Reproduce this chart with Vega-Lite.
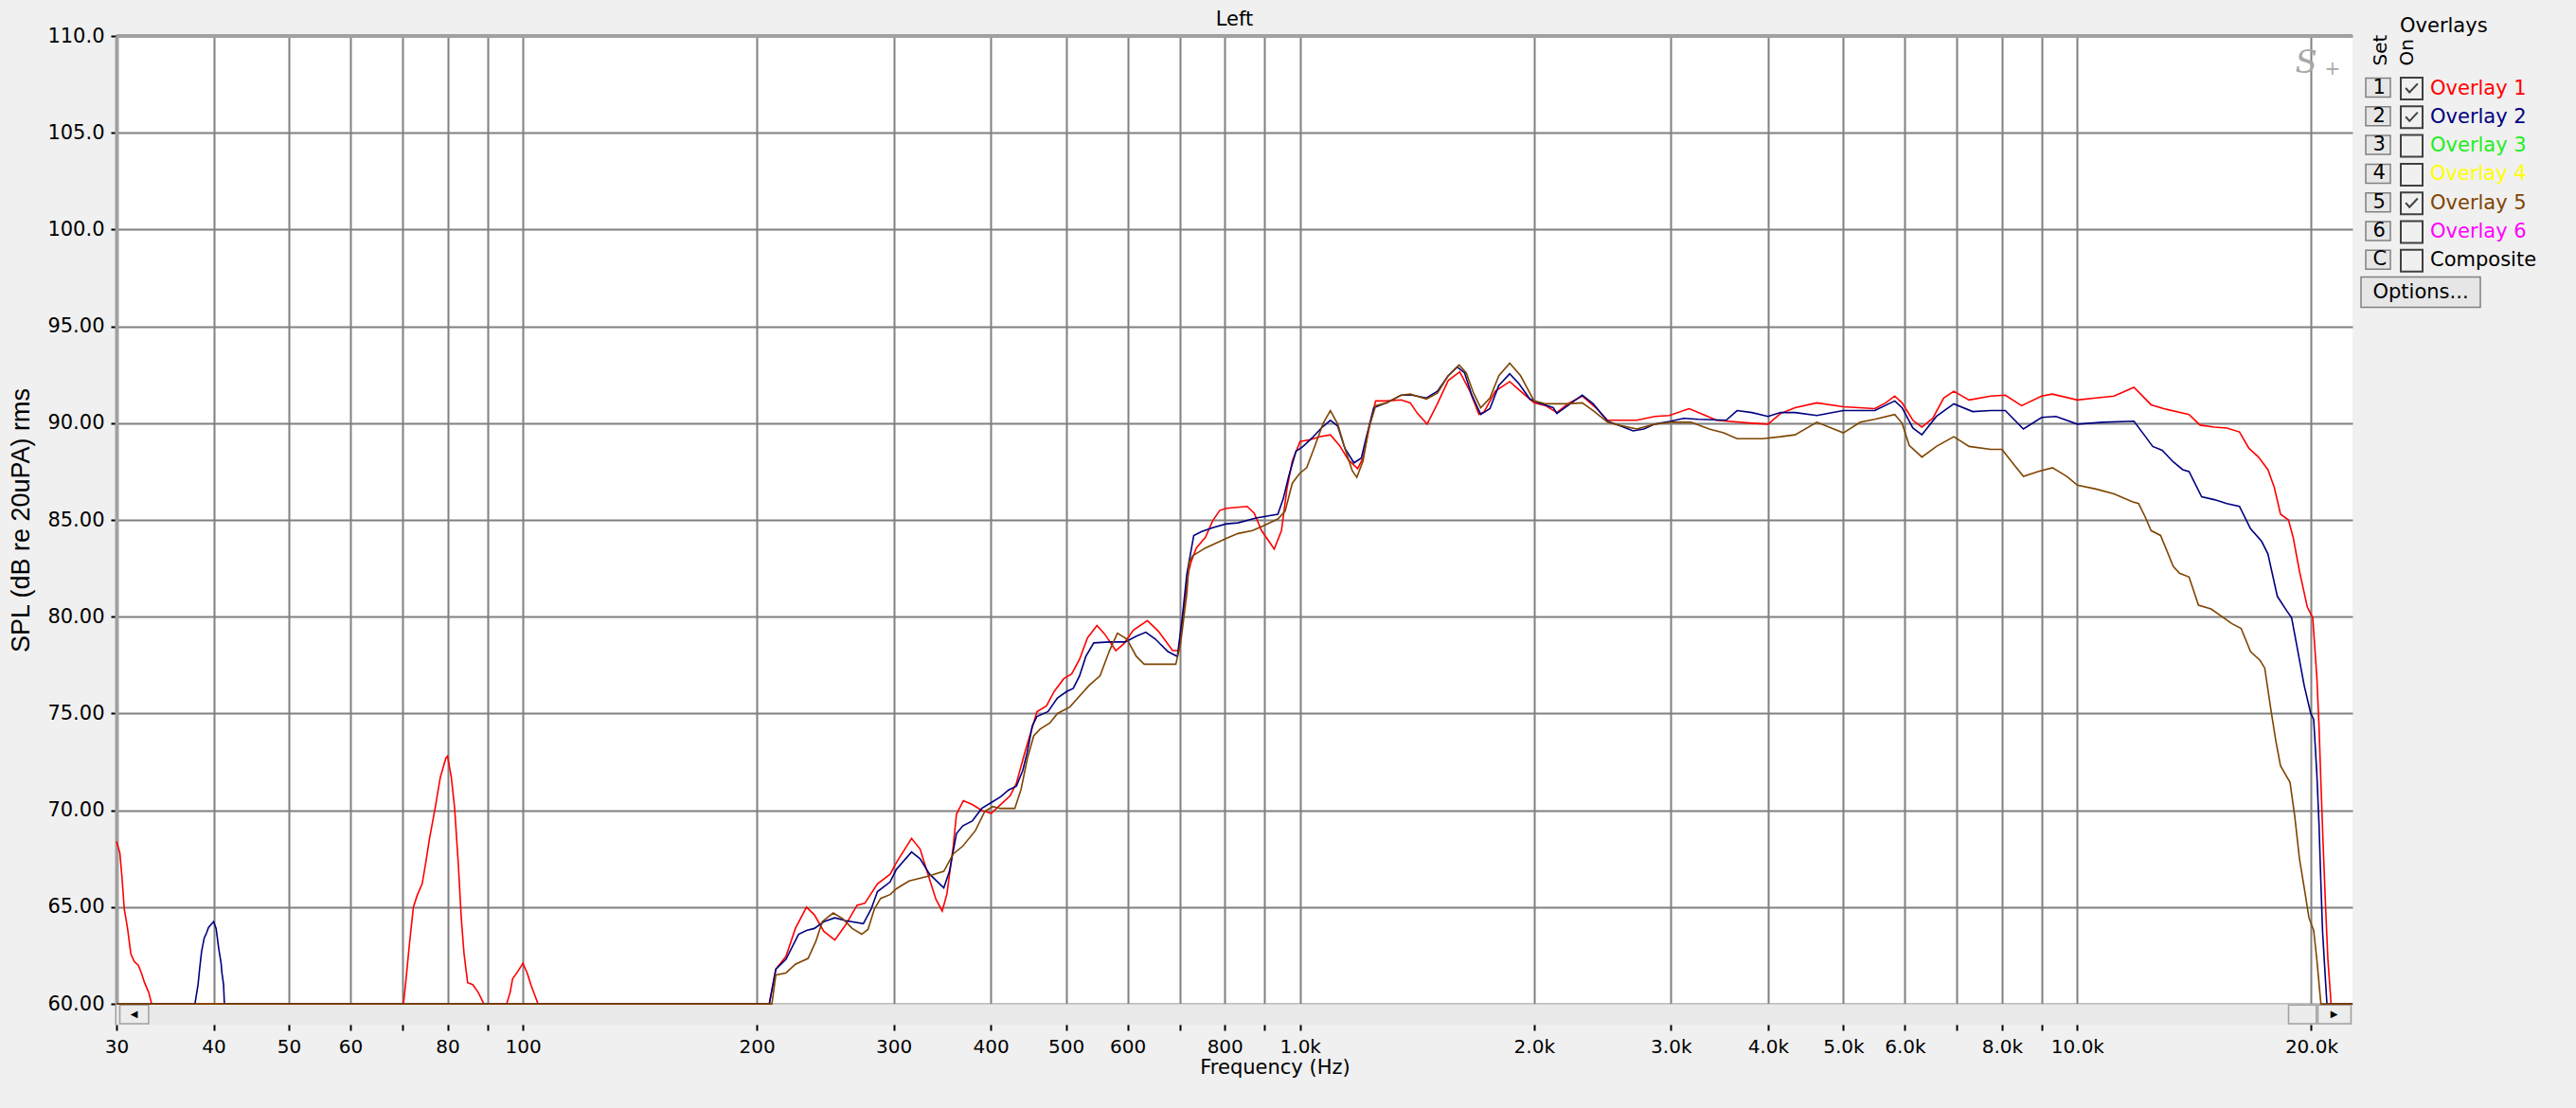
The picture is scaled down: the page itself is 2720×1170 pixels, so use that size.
{
  "$schema": "https://vega.github.io/schema/vega-lite/v6.json",
  "width": 2361,
  "height": 1044,
  "autosize": {"type": "none"},
  "padding": {"left": 123, "top": 38, "right": 236, "bottom": 88},
  "background": "#f0f0f0",
  "config": {
    "view": {"fill": "white", "stroke": null},
    "font": "DejaVu Sans"
  },
  "datasets": {
    "boxes": [{"o": "Overlay 1"}, {"o": "Overlay 2"}, {"o": "Overlay 3"}, {"o": "Overlay 4"}, {"o": "Overlay 5"}, {"o": "Overlay 6"}, {"o": "Composite"}],
    "sets": [{"k": "1"}, {"k": "2"}, {"k": "3"}, {"k": "4"}, {"k": "5"}, {"k": "6"}, {"k": "C"}],
    "opts": [{"b": "Options..."}],
    "curves": [
      {"s":"Overlay 1","f":30,"v":68.4},{"s":"Overlay 1","f":30.3,"v":67.8},{"s":"Overlay 1","f":30.5,"v":66.5},{"s":"Overlay 1","f":30.7,"v":64.9},{"s":"Overlay 1","f":31.0,"v":63.9},{"s":"Overlay 1","f":31.3,"v":62.6},{"s":"Overlay 1","f":31.6,"v":62.2},{"s":"Overlay 1","f":32.0,"v":62.0},{"s":"Overlay 1","f":32.3,"v":61.6},{"s":"Overlay 1","f":32.6,"v":61.1},{"s":"Overlay 1","f":33.0,"v":60.6},{"s":"Overlay 1","f":33.3,"v":60},
      {"s":"Overlay 1","f":70.2,"v":60},{"s":"Overlay 1","f":70.75,"v":61.3},{"s":"Overlay 1","f":71.5,"v":63.2},{"s":"Overlay 1","f":72.3,"v":65.0},{"s":"Overlay 1","f":73.1,"v":65.6},{"s":"Overlay 1","f":74.2,"v":66.2},{"s":"Overlay 1","f":75.0,"v":67.3},{"s":"Overlay 1","f":75.8,"v":68.5},{"s":"Overlay 1","f":77.1,"v":70.1},{"s":"Overlay 1","f":78.3,"v":71.7},{"s":"Overlay 1","f":79.6,"v":72.7},{"s":"Overlay 1","f":80,"v":72.8},{"s":"Overlay 1","f":80.9,"v":71.7},{"s":"Overlay 1","f":81.7,"v":70.1},{"s":"Overlay 1","f":82.6,"v":67.2},{"s":"Overlay 1","f":83.3,"v":64.5},{"s":"Overlay 1","f":84.0,"v":62.6},{"s":"Overlay 1","f":84.9,"v":61.1},{"s":"Overlay 1","f":86.2,"v":61.0},{"s":"Overlay 1","f":87.6,"v":60.6},{"s":"Overlay 1","f":89.1,"v":60},
      {"s":"Overlay 1","f":95.3,"v":60},{"s":"Overlay 1","f":96.3,"v":60.6},{"s":"Overlay 1","f":97.0,"v":61.3},{"s":"Overlay 1","f":98.6,"v":61.7},{"s":"Overlay 1","f":100,"v":62.1},{"s":"Overlay 1","f":101.3,"v":61.6},{"s":"Overlay 1","f":102.4,"v":61.0},{"s":"Overlay 1","f":103.5,"v":60.5},{"s":"Overlay 1","f":104.6,"v":60},
      {"s":"Overlay 1","f":207.5,"v":60},{"s":"Overlay 1","f":211.6,"v":61.8},{"s":"Overlay 1","f":218.0,"v":62.45},{"s":"Overlay 1","f":224.2,"v":63.9},{"s":"Overlay 1","f":231.7,"v":65.0},{"s":"Overlay 1","f":237.2,"v":64.6},{"s":"Overlay 1","f":243.9,"v":63.75},{"s":"Overlay 1","f":252.0,"v":63.3},{"s":"Overlay 1","f":260.4,"v":64.1},{"s":"Overlay 1","f":269.1,"v":65.1},{"s":"Overlay 1","f":275.4,"v":65.2},{"s":"Overlay 1","f":285.9,"v":66.2},{"s":"Overlay 1","f":296.8,"v":66.7},{"s":"Overlay 1","f":302.4,"v":67.3},{"s":"Overlay 1","f":316.3,"v":68.55},{"s":"Overlay 1","f":324.4,"v":68.0},{"s":"Overlay 1","f":332.1,"v":66.7},{"s":"Overlay 1","f":340.0,"v":65.4},{"s":"Overlay 1","f":346.4,"v":64.8},{"s":"Overlay 1","f":351.3,"v":65.7},{"s":"Overlay 1","f":357.9,"v":68.15},{"s":"Overlay 1","f":361.3,"v":69.8},{"s":"Overlay 1","f":368.8,"v":70.5},{"s":"Overlay 1","f":378.6,"v":70.3},{"s":"Overlay 1","f":389.4,"v":70.0},{"s":"Overlay 1","f":400.5,"v":69.85},{"s":"Overlay 1","f":411.8,"v":70.3},{"s":"Overlay 1","f":423.6,"v":70.75},{"s":"Overlay 1","f":431.5,"v":71.4},{"s":"Overlay 1","f":441.8,"v":72.9},{"s":"Overlay 1","f":450.1,"v":74.0},{"s":"Overlay 1","f":458.6,"v":75.1},{"s":"Overlay 1","f":471.7,"v":75.4},{"s":"Overlay 1","f":482.8,"v":76.15},{"s":"Overlay 1","f":496.5,"v":76.8},{"s":"Overlay 1","f":508.3,"v":77.05},{"s":"Overlay 1","f":520.3,"v":77.8},{"s":"Overlay 1","f":532.6,"v":78.9},{"s":"Overlay 1","f":547.8,"v":79.55},{"s":"Overlay 1","f":560.7,"v":79.1},{"s":"Overlay 1","f":579.3,"v":78.25},{"s":"Overlay 1","f":593.1,"v":78.6},{"s":"Overlay 1","f":609.9,"v":79.3},{"s":"Overlay 1","f":636.1,"v":79.8},{"s":"Overlay 1","f":657.3,"v":79.25},{"s":"Overlay 1","f":685.6,"v":78.25},{"s":"Overlay 1","f":698.5,"v":78.25},{"s":"Overlay 1","f":708.4,"v":80.4},{"s":"Overlay 1","f":718.4,"v":82.3},
      {"s":"Overlay 1","f":723.6,"v":82.8},{"s":"Overlay 1","f":735.3,"v":83.55},{"s":"Overlay 1","f":755.3,"v":84.1},{"s":"Overlay 1","f":771.7,"v":84.95},{"s":"Overlay 1","f":788.4,"v":85.5},{"s":"Overlay 1","f":803.9,"v":85.6},{"s":"Overlay 1","f":854.6,"v":85.7},{"s":"Overlay 1","f":873.1,"v":85.35},{"s":"Overlay 1","f":892.1,"v":84.45},{"s":"Overlay 1","f":926.3,"v":83.5},{"s":"Overlay 1","f":946.4,"v":84.45},{"s":"Overlay 1","f":961.7,"v":86.6},{"s":"Overlay 1","f":977.3,"v":88.05},{"s":"Overlay 1","f":1000,"v":89.05},{"s":"Overlay 1","f":1031,"v":89.15},{"s":"Overlay 1","f":1059,"v":89.3},{"s":"Overlay 1","f":1094,"v":89.4},{"s":"Overlay 1","f":1124,"v":88.85},{"s":"Overlay 1","f":1154,"v":88.1},{"s":"Overlay 1","f":1186,"v":87.65},{"s":"Overlay 1","f":1205,"v":88.2},{"s":"Overlay 1","f":1231,"v":90.0},{"s":"Overlay 1","f":1251,"v":91.15},{"s":"Overlay 1","f":1292,"v":91.15},{"s":"Overlay 1","f":1349,"v":91.2},{"s":"Overlay 1","f":1386,"v":91.05},{"s":"Overlay 1","f":1416,"v":90.5},{"s":"Overlay 1","f":1457,"v":89.95},{"s":"Overlay 1","f":1502,"v":91.0},{"s":"Overlay 1","f":1551,"v":92.2},{"s":"Overlay 1","f":1605,"v":92.65},{"s":"Overlay 1","f":1654,"v":91.65},{"s":"Overlay 1","f":1699,"v":90.45},{"s":"Overlay 1","f":1726,"v":90.6},{"s":"Overlay 1","f":1783,"v":91.65},{"s":"Overlay 1","f":1861,"v":92.15},{"s":"Overlay 1","f":1922,"v":91.65},{"s":"Overlay 1","f":2000,"v":91.05},{"s":"Overlay 1","f":2072,"v":90.9},{"s":"Overlay 1","f":2140,"v":90.55},{"s":"Overlay 1","f":2210,"v":91.0},{"s":"Overlay 1","f":2307,"v":91.4},{"s":"Overlay 1","f":2408,"v":90.75},{"s":"Overlay 1","f":2487,"v":90.15},{"s":"Overlay 1","f":2711,"v":90.15},{"s":"Overlay 1","f":2860,"v":90.35},{"s":"Overlay 1","f":2985,"v":90.4},{"s":"Overlay 1","f":3167,"v":90.75},{"s":"Overlay 1","f":3324,"v":90.4},{"s":"Overlay 1","f":3433,"v":90.15},{"s":"Overlay 1","f":3813,"v":90.0},
      {"s":"Overlay 1","f":4000,"v":89.95},{"s":"Overlay 1","f":4152,"v":90.5},{"s":"Overlay 1","f":4334,"v":90.8},{"s":"Overlay 1","f":4623,"v":91.05},{"s":"Overlay 1","f":5000,"v":90.85},{"s":"Overlay 1","f":5489,"v":90.75},{"s":"Overlay 1","f":5669,"v":91.05},{"s":"Overlay 1","f":5823,"v":91.4},{"s":"Overlay 1","f":5950,"v":91.05},{"s":"Overlay 1","f":6144,"v":90.15},{"s":"Overlay 1","f":6311,"v":89.8},{"s":"Overlay 1","f":6518,"v":90.25},{"s":"Overlay 1","f":6731,"v":91.3},{"s":"Overlay 1","f":6937,"v":91.65},{"s":"Overlay 1","f":7257,"v":91.2},{"s":"Overlay 1","f":7739,"v":91.4},{"s":"Overlay 1","f":8079,"v":91.45},{"s":"Overlay 1","f":8480,"v":90.9},{"s":"Overlay 1","f":8995,"v":91.4},{"s":"Overlay 1","f":9290,"v":91.5},{"s":"Overlay 1","f":10000,"v":91.2},{"s":"Overlay 1","f":10567,"v":91.3},{"s":"Overlay 1","f":11150,"v":91.4},{"s":"Overlay 1","f":11828,"v":91.85},{"s":"Overlay 1","f":12446,"v":90.95},{"s":"Overlay 1","f":12919,"v":90.75},{"s":"Overlay 1","f":13926,"v":90.45},{"s":"Overlay 1","f":14387,"v":89.9},{"s":"Overlay 1","f":15005,"v":89.8},{"s":"Overlay 1","f":15575,"v":89.75},{"s":"Overlay 1","f":16168,"v":89.55},{"s":"Overlay 1","f":16630,"v":88.7},{"s":"Overlay 1","f":17103,"v":88.25},{"s":"Overlay 1","f":17590,"v":87.6},{"s":"Overlay 1","f":17921,"v":86.7},{"s":"Overlay 1","f":18260,"v":85.3},{"s":"Overlay 1","f":18693,"v":85.0},{"s":"Overlay 1","f":18957,"v":84.1},{"s":"Overlay 1","f":19315,"v":82.35},{"s":"Overlay 1","f":19771,"v":80.5},{"s":"Overlay 1","f":20089,"v":79.95},{"s":"Overlay 1","f":20334,"v":76.9},{"s":"Overlay 1","f":20468,"v":74.3},{"s":"Overlay 1","f":20583,"v":71.4},{"s":"Overlay 1","f":20719,"v":68.2},{"s":"Overlay 1","f":20874,"v":64.9},{"s":"Overlay 1","f":21011,"v":62.3},{"s":"Overlay 1","f":21169,"v":60.5},{"s":"Overlay 1","f":21209,"v":60},{"s":"Overlay 1","f":22600,"v":60},

      {"s":"Overlay 2","f":30,"v":60},{"s":"Overlay 2","f":37.85,"v":60},{"s":"Overlay 2","f":38.2,"v":61.0},{"s":"Overlay 2","f":38.4,"v":61.9},{"s":"Overlay 2","f":38.6,"v":62.7},{"s":"Overlay 2","f":38.9,"v":63.4},{"s":"Overlay 2","f":39.2,"v":63.7},{"s":"Overlay 2","f":39.4,"v":63.95},{"s":"Overlay 2","f":39.7,"v":64.1},{"s":"Overlay 2","f":40,"v":64.25},{"s":"Overlay 2","f":40.3,"v":63.9},{"s":"Overlay 2","f":40.6,"v":62.9},{"s":"Overlay 2","f":40.9,"v":62.1},{"s":"Overlay 2","f":41.0,"v":61.6},{"s":"Overlay 2","f":41.2,"v":61.0},{"s":"Overlay 2","f":41.3,"v":60},
      {"s":"Overlay 2","f":207.5,"v":60},{"s":"Overlay 2","f":211.6,"v":61.8},{"s":"Overlay 2","f":218.0,"v":62.3},{"s":"Overlay 2","f":226.3,"v":63.6},{"s":"Overlay 2","f":231.7,"v":63.8},{"s":"Overlay 2","f":237.2,"v":63.9},{"s":"Overlay 2","f":243.9,"v":64.25},{"s":"Overlay 2","f":252.0,"v":64.45},{"s":"Overlay 2","f":260.4,"v":64.3},{"s":"Overlay 2","f":274.2,"v":64.15},{"s":"Overlay 2","f":280.6,"v":64.9},{"s":"Overlay 2","f":285.9,"v":65.8},{"s":"Overlay 2","f":296.8,"v":66.3},{"s":"Overlay 2","f":302.4,"v":66.95},{"s":"Overlay 2","f":316.3,"v":67.85},{"s":"Overlay 2","f":324.4,"v":67.5},{"s":"Overlay 2","f":333.7,"v":66.7},{"s":"Overlay 2","f":348.0,"v":66.0},{"s":"Overlay 2","f":353.9,"v":66.85},{"s":"Overlay 2","f":361.3,"v":68.8},{"s":"Overlay 2","f":368.1,"v":69.2},{"s":"Overlay 2","f":378.6,"v":69.45},{"s":"Overlay 2","f":389.4,"v":70.1},{"s":"Overlay 2","f":400.5,"v":70.4},{"s":"Overlay 2","f":411.8,"v":70.7},{"s":"Overlay 2","f":421.6,"v":71.05},{"s":"Overlay 2","f":431.5,"v":71.25},{"s":"Overlay 2","f":439.7,"v":72.05},{"s":"Overlay 2","f":445.9,"v":73.05},{"s":"Overlay 2","f":452.2,"v":74.35},{"s":"Overlay 2","f":458.6,"v":74.85},{"s":"Overlay 2","f":473.9,"v":75.1},{"s":"Overlay 2","f":487.3,"v":75.8},{"s":"Overlay 2","f":501.2,"v":76.15},{"s":"Overlay 2","f":510.7,"v":76.3},{"s":"Overlay 2","f":520.3,"v":76.95},{"s":"Overlay 2","f":530.1,"v":77.95},{"s":"Overlay 2","f":542.7,"v":78.65},{"s":"Overlay 2","f":568.6,"v":78.7},{"s":"Overlay 2","f":595.8,"v":78.7},{"s":"Overlay 2","f":615.7,"v":79.0},{"s":"Overlay 2","f":633.2,"v":79.2},{"s":"Overlay 2","f":651.2,"v":78.85},{"s":"Overlay 2","f":676.0,"v":78.2},{"s":"Overlay 2","f":695.2,"v":77.95},{"s":"Overlay 2","f":705.1,"v":79.9},{"s":"Overlay 2","f":715.0,"v":82.2},
      {"s":"Overlay 2","f":729.8,"v":84.2},{"s":"Overlay 2","f":747.2,"v":84.4},{"s":"Overlay 2","f":771.7,"v":84.6},{"s":"Overlay 2","f":803.9,"v":84.8},{"s":"Overlay 2","f":832,"v":84.85},{"s":"Overlay 2","f":877.8,"v":85.1},{"s":"Overlay 2","f":906.6,"v":85.2},{"s":"Overlay 2","f":936.3,"v":85.3},{"s":"Overlay 2","f":951.5,"v":86.1},{"s":"Overlay 2","f":966.9,"v":87.25},{"s":"Overlay 2","f":987.9,"v":88.55},{"s":"Overlay 2","f":1009,"v":88.8},{"s":"Overlay 2","f":1037,"v":89.25},{"s":"Overlay 2","f":1065,"v":89.75},{"s":"Overlay 2","f":1094,"v":90.15},{"s":"Overlay 2","f":1118,"v":89.85},{"s":"Overlay 2","f":1142,"v":88.7},{"s":"Overlay 2","f":1173,"v":87.95},{"s":"Overlay 2","f":1199,"v":88.2},{"s":"Overlay 2","f":1218,"v":89.35},{"s":"Overlay 2","f":1244,"v":90.8},{"s":"Overlay 2","f":1292,"v":91.05},{"s":"Overlay 2","f":1349,"v":91.45},{"s":"Overlay 2","f":1393,"v":91.45},{"s":"Overlay 2","f":1454,"v":91.3},{"s":"Overlay 2","f":1502,"v":91.65},{"s":"Overlay 2","f":1551,"v":92.45},{"s":"Overlay 2","f":1593,"v":92.9},{"s":"Overlay 2","f":1628,"v":92.6},{"s":"Overlay 2","f":1663,"v":91.45},{"s":"Overlay 2","f":1708,"v":90.45},{"s":"Overlay 2","f":1755,"v":90.75},{"s":"Overlay 2","f":1802,"v":91.95},{"s":"Overlay 2","f":1861,"v":92.55},{"s":"Overlay 2","f":1912,"v":92.05},{"s":"Overlay 2","f":1975,"v":91.25},{"s":"Overlay 2","f":2028,"v":91.05},{"s":"Overlay 2","f":2117,"v":90.8},{"s":"Overlay 2","f":2140,"v":90.5},{"s":"Overlay 2","f":2210,"v":90.9},{"s":"Overlay 2","f":2307,"v":91.45},{"s":"Overlay 2","f":2383,"v":91.0},{"s":"Overlay 2","f":2487,"v":90.1},{"s":"Overlay 2","f":2569,"v":89.9},{"s":"Overlay 2","f":2682,"v":89.6},{"s":"Overlay 2","f":2769,"v":89.7},{"s":"Overlay 2","f":2860,"v":89.95},{"s":"Overlay 2","f":3000,"v":90.1},{"s":"Overlay 2","f":3117,"v":90.25},{"s":"Overlay 2","f":3253,"v":90.2},{"s":"Overlay 2","f":3534,"v":90.15},{"s":"Overlay 2","f":3650,"v":90.65},{"s":"Overlay 2","f":3813,"v":90.55},
      {"s":"Overlay 2","f":4000,"v":90.35},{"s":"Overlay 2","f":4152,"v":90.55},{"s":"Overlay 2","f":4334,"v":90.55},{"s":"Overlay 2","f":4623,"v":90.4},{"s":"Overlay 2","f":5000,"v":90.65},{"s":"Overlay 2","f":5489,"v":90.65},{"s":"Overlay 2","f":5823,"v":91.15},{"s":"Overlay 2","f":5950,"v":90.8},{"s":"Overlay 2","f":6144,"v":89.75},{"s":"Overlay 2","f":6311,"v":89.4},{"s":"Overlay 2","f":6588,"v":90.35},{"s":"Overlay 2","f":6937,"v":91.0},{"s":"Overlay 2","f":7335,"v":90.6},{"s":"Overlay 2","f":7739,"v":90.65},{"s":"Overlay 2","f":8079,"v":90.65},{"s":"Overlay 2","f":8525,"v":89.7},{"s":"Overlay 2","f":9000,"v":90.3},{"s":"Overlay 2","f":9390,"v":90.35},{"s":"Overlay 2","f":10000,"v":89.95},{"s":"Overlay 2","f":10796,"v":90.05},{"s":"Overlay 2","f":11828,"v":90.1},{"s":"Overlay 2","f":12215,"v":89.35},{"s":"Overlay 2","f":12504,"v":88.8},{"s":"Overlay 2","f":12859,"v":88.6},{"s":"Overlay 2","f":13288,"v":88.0},{"s":"Overlay 2","f":13668,"v":87.6},{"s":"Overlay 2","f":13926,"v":87.5},{"s":"Overlay 2","f":14454,"v":86.2},{"s":"Overlay 2","f":15005,"v":86.05},{"s":"Overlay 2","f":15575,"v":85.85},{"s":"Overlay 2","f":16168,"v":85.7},{"s":"Overlay 2","f":16707,"v":84.55},{"s":"Overlay 2","f":17263,"v":83.9},{"s":"Overlay 2","f":17590,"v":83.25},{"s":"Overlay 2","f":18091,"v":81.05},{"s":"Overlay 2","f":18606,"v":80.3},{"s":"Overlay 2","f":18869,"v":79.95},{"s":"Overlay 2","f":19135,"v":78.65},{"s":"Overlay 2","f":19587,"v":76.45},{"s":"Overlay 2","f":19957,"v":75.05},{"s":"Overlay 2","f":20145,"v":74.7},{"s":"Overlay 2","f":20334,"v":71.9},{"s":"Overlay 2","f":20468,"v":69.25},{"s":"Overlay 2","f":20564,"v":66.65},{"s":"Overlay 2","f":20680,"v":63.8},{"s":"Overlay 2","f":20816,"v":61.85},{"s":"Overlay 2","f":20914,"v":60.5},{"s":"Overlay 2","f":20953,"v":60},{"s":"Overlay 2","f":22600,"v":60},

      {"s":"Overlay 5","f":30,"v":60},{"s":"Overlay 5","f":209.1,"v":60},{"s":"Overlay 5","f":211.6,"v":61.5},{"s":"Overlay 5","f":218.0,"v":61.6},{"s":"Overlay 5","f":224.2,"v":62.05},{"s":"Overlay 5","f":232.8,"v":62.35},{"s":"Overlay 5","f":238.3,"v":63.25},{"s":"Overlay 5","f":242.8,"v":64.25},{"s":"Overlay 5","f":250.8,"v":64.7},{"s":"Overlay 5","f":258.0,"v":64.4},{"s":"Overlay 5","f":265.3,"v":63.9},{"s":"Overlay 5","f":272.9,"v":63.6},{"s":"Overlay 5","f":278.0,"v":63.85},{"s":"Overlay 5","f":283.3,"v":64.9},{"s":"Overlay 5","f":288.6,"v":65.45},{"s":"Overlay 5","f":296.8,"v":65.65},{"s":"Overlay 5","f":302.4,"v":65.95},{"s":"Overlay 5","f":314.0,"v":66.35},{"s":"Overlay 5","f":332.1,"v":66.6},{"s":"Overlay 5","f":348.0,"v":66.85},{"s":"Overlay 5","f":357.9,"v":67.75},{"s":"Overlay 5","f":368.1,"v":68.15},{"s":"Overlay 5","f":382.1,"v":68.95},{"s":"Overlay 5","f":393.0,"v":69.95},{"s":"Overlay 5","f":402.3,"v":70.2},{"s":"Overlay 5","f":411.8,"v":70.1},{"s":"Overlay 5","f":429.5,"v":70.1},{"s":"Overlay 5","f":437.6,"v":71.1},{"s":"Overlay 5","f":445.9,"v":72.7},{"s":"Overlay 5","f":454.3,"v":73.85},{"s":"Overlay 5","f":462.9,"v":74.2},{"s":"Overlay 5","f":476.1,"v":74.5},{"s":"Overlay 5","f":487.3,"v":75.0},{"s":"Overlay 5","f":505.9,"v":75.35},{"s":"Overlay 5","f":520.3,"v":75.9},{"s":"Overlay 5","f":535.1,"v":76.45},{"s":"Overlay 5","f":552.9,"v":76.95},{"s":"Overlay 5","f":568.6,"v":78.25},{"s":"Overlay 5","f":582.1,"v":79.15},{"s":"Overlay 5","f":598.6,"v":78.85},{"s":"Overlay 5","f":615.7,"v":77.95},{"s":"Overlay 5","f":630.2,"v":77.55},{"s":"Overlay 5","f":663.5,"v":77.55},{"s":"Overlay 5","f":692.0,"v":77.55},{"s":"Overlay 5","f":701.8,"v":78.6},{"s":"Overlay 5","f":715.0,"v":81.2},{"s":"Overlay 5","f":719.7,"v":82.8},{"s":"Overlay 5","f":727.5,"v":83.15},{"s":"Overlay 5","f":755.3,"v":83.55},{"s":"Overlay 5","f":803.9,"v":84.05},{"s":"Overlay 5","f":832,"v":84.3},{"s":"Overlay 5","f":868.5,"v":84.45},{"s":"Overlay 5","f":896.9,"v":84.7},{"s":"Overlay 5","f":936.3,"v":85.05},{"s":"Overlay 5","f":956.6,"v":85.45},{"s":"Overlay 5","f":977.3,"v":86.9},{"s":"Overlay 5","f":998.6,"v":87.4},{"s":"Overlay 5","f":1020,"v":87.7},{"s":"Overlay 5","f":1042,"v":88.7},{"s":"Overlay 5","f":1071,"v":90.0},{"s":"Overlay 5","f":1094,"v":90.65},{"s":"Overlay 5","f":1118,"v":89.95},{"s":"Overlay 5","f":1142,"v":88.7},{"s":"Overlay 5","f":1167,"v":87.55},{"s":"Overlay 5","f":1183,"v":87.2},{"s":"Overlay 5","f":1205,"v":88.05},{"s":"Overlay 5","f":1225,"v":89.7},{"s":"Overlay 5","f":1251,"v":90.9},{"s":"Overlay 5","f":1292,"v":91.05},{"s":"Overlay 5","f":1349,"v":91.45},{"s":"Overlay 5","f":1386,"v":91.5},{"s":"Overlay 5","f":1454,"v":91.25},{"s":"Overlay 5","f":1502,"v":91.55},{"s":"Overlay 5","f":1551,"v":92.45},{"s":"Overlay 5","f":1602,"v":93.0},{"s":"Overlay 5","f":1636,"v":92.6},{"s":"Overlay 5","f":1672,"v":91.55},{"s":"Overlay 5","f":1708,"v":90.8},{"s":"Overlay 5","f":1755,"v":91.3},{"s":"Overlay 5","f":1802,"v":92.45},{"s":"Overlay 5","f":1861,"v":93.1},{"s":"Overlay 5","f":1922,"v":92.45},{"s":"Overlay 5","f":2000,"v":91.15},{"s":"Overlay 5","f":2072,"v":91.0},{"s":"Overlay 5","f":2210,"v":91.0},{"s":"Overlay 5","f":2307,"v":91.05},{"s":"Overlay 5","f":2383,"v":90.65},{"s":"Overlay 5","f":2487,"v":90.05},{"s":"Overlay 5","f":2569,"v":89.9},{"s":"Overlay 5","f":2711,"v":89.7},{"s":"Overlay 5","f":2860,"v":89.95},{"s":"Overlay 5","f":3000,"v":90.05},{"s":"Overlay 5","f":3184,"v":90.05},{"s":"Overlay 5","f":3360,"v":89.7},{"s":"Overlay 5","f":3507,"v":89.5},{"s":"Overlay 5","f":3650,"v":89.2},{"s":"Overlay 5","f":3935,"v":89.2},{"s":"Overlay 5","f":4152,"v":89.3},{"s":"Overlay 5","f":4334,"v":89.4},{"s":"Overlay 5","f":4623,"v":90.05},{"s":"Overlay 5","f":5000,"v":89.5},{"s":"Overlay 5","f":5258,"v":90.05},{"s":"Overlay 5","f":5489,"v":90.2},{"s":"Overlay 5","f":5823,"v":90.45},{"s":"Overlay 5","f":5950,"v":90.0},{"s":"Overlay 5","f":6078,"v":88.85},{"s":"Overlay 5","f":6311,"v":88.25},{"s":"Overlay 5","f":6588,"v":88.8},{"s":"Overlay 5","f":6937,"v":89.3},{"s":"Overlay 5","f":7257,"v":88.8},{"s":"Overlay 5","f":7739,"v":88.65},{"s":"Overlay 5","f":8000,"v":88.65},{"s":"Overlay 5","f":8254,"v":87.95},{"s":"Overlay 5","f":8525,"v":87.25},{"s":"Overlay 5","f":8900,"v":87.5},{"s":"Overlay 5","f":9290,"v":87.7},{"s":"Overlay 5","f":9697,"v":87.25},{"s":"Overlay 5","f":10000,"v":86.8},{"s":"Overlay 5","f":10567,"v":86.6},{"s":"Overlay 5","f":11150,"v":86.35},{"s":"Overlay 5","f":11767,"v":85.95},{"s":"Overlay 5","f":11990,"v":85.85},{"s":"Overlay 5","f":12215,"v":85.2},{"s":"Overlay 5","f":12446,"v":84.45},{"s":"Overlay 5","f":12800,"v":84.2},{"s":"Overlay 5","f":13288,"v":82.6},{"s":"Overlay 5","f":13537,"v":82.25},{"s":"Overlay 5","f":13926,"v":82.05},{"s":"Overlay 5","f":14320,"v":80.6},{"s":"Overlay 5","f":14864,"v":80.4},{"s":"Overlay 5","f":15431,"v":79.95},{"s":"Overlay 5","f":15797,"v":79.65},{"s":"Overlay 5","f":16246,"v":79.4},{"s":"Overlay 5","f":16707,"v":78.2},{"s":"Overlay 5","f":17183,"v":77.75},{"s":"Overlay 5","f":17426,"v":77.35},{"s":"Overlay 5","f":17754,"v":75.15},{"s":"Overlay 5","f":18006,"v":73.6},{"s":"Overlay 5","f":18260,"v":72.3},{"s":"Overlay 5","f":18780,"v":71.45},{"s":"Overlay 5","f":19046,"v":69.7},{"s":"Overlay 5","f":19315,"v":67.5},{"s":"Overlay 5","f":19587,"v":66.0},{"s":"Overlay 5","f":19865,"v":64.45},{"s":"Overlay 5","f":20145,"v":63.8},{"s":"Overlay 5","f":20334,"v":62.3},{"s":"Overlay 5","f":20526,"v":60.5},{"s":"Overlay 5","f":20583,"v":60},{"s":"Overlay 5","f":22600,"v":60}
    ]
  },
  "layer": [
    {
      "data": {"values": [{}]},
      "mark": {"type": "rect", "fill": "#e9e9e9"},
      "encoding": {
        "y": {"datum": 60, "type": "quantitative", "axis": null},
        "y2": {"datum": 58.93}
      }
    },
    {
      "data": {"values": [{}]},
      "mark": {"type": "rect", "fill": "#ececec", "stroke": "#a0a0a0", "strokeWidth": 1.5},
      "encoding": {
        "x": {"datum": 30.3, "type": "quantitative", "axis": null},
        "x2": {"datum": 33.0},
        "y": {"datum": 59.95, "type": "quantitative", "axis": null},
        "y2": {"datum": 58.98}
      }
    },
    {
      "data": {"values": [{}]},
      "mark": {"type": "rect", "fill": "#ececec", "stroke": "#a0a0a0", "strokeWidth": 1.5},
      "encoding": {
        "x": {"datum": 18700, "type": "quantitative", "axis": null},
        "x2": {"datum": 20300},
        "y": {"datum": 59.95, "type": "quantitative", "axis": null},
        "y2": {"datum": 58.98}
      }
    },
    {
      "data": {"values": [{}]},
      "mark": {"type": "rect", "fill": "#ececec", "stroke": "#a0a0a0", "strokeWidth": 1.5},
      "encoding": {
        "x": {"datum": 20400, "type": "quantitative", "axis": null},
        "x2": {"datum": 22500},
        "y": {"datum": 59.95, "type": "quantitative", "axis": null},
        "y2": {"datum": 58.98}
      }
    },
    {
      "data": {"values": [{}]},
      "mark": {"type": "text", "text": "◀", "fontSize": 10, "color": "black", "align": "center", "baseline": "middle"},
      "encoding": {
        "x": {"datum": 31.6, "type": "quantitative", "axis": null},
        "y": {"datum": 59.46, "type": "quantitative", "axis": null}
      }
    },
    {
      "data": {"values": [{}]},
      "mark": {"type": "text", "text": "▶", "fontSize": 10, "color": "black", "align": "center", "baseline": "middle"},
      "encoding": {
        "x": {"datum": 21400, "type": "quantitative", "axis": null},
        "y": {"datum": 59.46, "type": "quantitative", "axis": null}
      }
    },
    {
      "data": {"values": [{}]},
      "mark": {"type": "rule", "stroke": "#a0a0a0", "strokeWidth": 4},
      "encoding": {"y": {"datum": 110, "type": "quantitative", "axis": null}}
    },
    {
      "data": {"values": [{}]},
      "mark": {"type": "text", "text": "S", "font": "DejaVu Serif", "fontStyle": "italic", "fontSize": 34, "color": "#a8a8a8", "align": "center", "baseline": "middle"},
      "encoding": {
        "x": {"datum": 19700, "type": "quantitative", "axis": null},
        "y": {"datum": 108.6, "type": "quantitative", "axis": null}
      }
    },
    {
      "data": {"values": [{}]},
      "mark": {"type": "text", "text": "+", "font": "DejaVu Serif", "fontSize": 20, "color": "#a8a8a8", "align": "center", "baseline": "middle"},
      "encoding": {
        "x": {"datum": 21300, "type": "quantitative", "axis": null},
        "y": {"datum": 108.3, "type": "quantitative", "axis": null}
      }
    },
    {
      "data": {"values": [{}]},
      "mark": {"type": "text", "text": ""},
      "encoding": {
        "x": {
          "datum": 30,
          "type": "quantitative",
          "axis": {
            "orient": "top",
            "grid": false,
            "labels": false,
            "ticks": false,
            "domain": false,
            "title": "Left",
            "titleFont": "DejaVu Sans",
            "titleFontSize": 21,
            "titleFontWeight": "normal",
            "titleColor": "black",
            "titleAlign": "center",
            "titleBaseline": "alphabetic",
            "titleAngle": 0,
            "titleX": 1180,
            "titleY": -12
          }
        },
        "y": {
          "datum": 110,
          "type": "quantitative",
          "axis": {
            "orient": "right",
            "grid": false,
            "labels": false,
            "ticks": false,
            "domain": false,
            "title": ["Set", "On"],
            "titleFont": "DejaVu Sans",
            "titleFontSize": 20,
            "titleFontWeight": "normal",
            "titleColor": "black",
            "titleAngle": 270,
            "titleAlign": "left",
            "titleBaseline": "top",
            "titleLineHeight": 28,
            "titleX": 19,
            "titleY": 31
          }
        }
      }
    },
    {
      "data": {"name": "curves"},
      "mark": {"type": "line", "strokeWidth": 1.6},
      "encoding": {
        "x": {
          "field": "f",
          "type": "quantitative",
          "scale": {"type": "log", "domain": [30, 22600], "nice": false},
          "axis": {
            "orient": "bottom",
            "values": [30, 40, 50, 60, 70, 80, 90, 100, 200, 300, 400, 500, 600, 700, 800, 900, 1000, 2000, 3000, 4000, 5000, 6000, 7000, 8000, 9000, 10000, 20000],
            "labelExpr": "indexof([70, 90, 700, 900, 7000, 9000], datum.value) >= 0 ? '' : (datum.value >= 1000 ? format(datum.value / 1000, '.1f') + 'k' : format(datum.value, 'd'))",
            "grid": true,
            "gridColor": "#808080",
            "gridWidth": 2,
            "gridOpacity": 1,
            "domain": false,
            "ticks": true,
            "tickColor": "black",
            "tickSize": 6,
            "tickWidth": 2,
            "labelFont": "DejaVu Sans",
            "labelFontSize": 20,
            "labelColor": "black",
            "labelPadding": 7,
            "labelOverlap": false,
            "labelFlush": false,
            "title": "Frequency (Hz)",
            "titleFont": "DejaVu Sans",
            "titleFontSize": 21,
            "titleFontWeight": "normal",
            "titleColor": "black",
            "titleX": 1223,
            "titleY": 34
          }
        },
        "y": {
          "field": "v",
          "type": "quantitative",
          "scale": {"domain": [58.93, 110], "nice": false, "zero": false},
          "axis": {
            "orient": "left",
            "values": [60, 65, 70, 75, 80, 85, 90, 95, 100, 105, 110],
            "labelExpr": "datum.value >= 100 ? format(datum.value, '.1f') : format(datum.value, '.2f')",
            "grid": true,
            "gridColor": "#808080",
            "gridWidth": 2,
            "gridOpacity": 1,
            "domain": true,
            "domainColor": "#a0a0a0",
            "domainWidth": 4,
            "tickColor": "black",
            "tickSize": 6,
            "tickWidth": 2,
            "labelFont": "DejaVu Sans",
            "labelFontSize": 21,
            "labelColor": "black",
            "labelPadding": 7,
            "title": "SPL (dB re 20uPA) rms",
            "titleFont": "Liberation Sans",
            "titleFontSize": 27,
            "titleFontWeight": "normal",
            "titleColor": "black",
            "titleX": -87,
            "titleY": 511
          }
        },
        "color": {
          "field": "s",
          "type": "nominal",
          "scale": {
            "domain": ["Overlay 1", "Overlay 2", "Overlay 5", "Overlay 3", "Overlay 4", "Overlay 6", "Composite"],
            "range": ["#ff0000", "#000080", "#7f4400", "#22ee22", "#ffff00", "#ff00ff", "#000000"]
          },
          "legend": null
        }
      }
    },
    {
      "data": {"name": "boxes"},
      "mark": {"type": "point", "filled": false, "color": "#404040", "strokeWidth": 2, "size": 529, "opacity": 1, "clip": true},
      "encoding": {
        "x": {"datum": 10, "type": "quantitative", "axis": null},
        "shape": {
          "field": "o",
          "type": "nominal",
          "scale": {
            "domain": ["Overlay 1", "Overlay 2", "Overlay 3", "Overlay 4", "Overlay 5", "Overlay 6", "Composite"],
            "range": [
              "M-1,-1H1V1H-1Z M-0.55,-0.05L-0.2,0.35L0.55,-0.45",
              "M-1,-1H1V1H-1Z M-0.55,-0.05L-0.2,0.35L0.55,-0.45",
              "M-1,-1H1V1H-1Z",
              "M-1,-1H1V1H-1Z",
              "M-1,-1H1V1H-1Z M-0.55,-0.05L-0.2,0.35L0.55,-0.45",
              "M-1,-1H1V1H-1Z",
              "M-1,-1H1V1H-1Z"
            ]
          },
          "legend": {
            "orient": "none",
            "legendX": 2411,
            "legendY": -21,
            "padding": 0,
            "title": "Overlays",
            "titleFont": "DejaVu Sans",
            "titleFontSize": 21,
            "titleFontWeight": "normal",
            "titleColor": "black",
            "titlePadding": 43,
            "labelFont": "DejaVu Sans",
            "labelFontSize": 21,
            "labelColor": {"expr": "scale('color', datum.value)"},
            "labelOffset": 7,
            "symbolSize": 529,
            "symbolFillColor": "white",
            "symbolStrokeColor": "#404040",
            "symbolStrokeWidth": 2,
            "symbolOpacity": 1,
            "rowPadding": -0.7
          }
        }
      }
    },
    {
      "data": {"name": "sets"},
      "mark": {"type": "point", "filled": true, "stroke": "#808080", "strokeWidth": 1.5, "size": 400, "opacity": 1, "clip": true},
      "encoding": {
        "x": {"datum": 10, "type": "quantitative", "axis": null},
        "fill": {
          "field": "k",
          "type": "nominal",
          "scale": {
            "domain": ["1", "2", "3", "4", "5", "6", "C"],
            "range": ["#e6e6e6", "#e6e6e6", "#e6e6e6", "#e6e6e6", "#e6e6e6", "#e6e6e6", "#e6e6e6"]
          },
          "legend": {
            "orient": "none",
            "legendX": 2377,
            "legendY": 43.5,
            "padding": 0,
            "title": null,
            "labelFont": "DejaVu Sans",
            "labelFontSize": 21,
            "labelColor": "black",
            "labelAlign": "left",
            "labelOffset": -16.5,
            "symbolType": "M-1.3,-1H1.3V1H-1.3Z",
            "symbolSize": 400,
            "symbolStrokeColor": "#808080",
            "symbolStrokeWidth": 1.5,
            "symbolOpacity": 1,
            "rowPadding": 4.3
          }
        }
      }
    },
    {
      "data": {"name": "opts"},
      "mark": {"type": "point", "filled": true, "fill": "#e6e6e6", "strokeWidth": 1.5, "size": 400, "opacity": 1, "clip": true},
      "encoding": {
        "x": {"datum": 10, "type": "quantitative", "axis": null},
        "stroke": {
          "field": "b",
          "type": "nominal",
          "scale": {"domain": ["Options..."], "range": ["#808080"]},
          "legend": {
            "orient": "none",
            "legendX": 2377,
            "legendY": 259.5,
            "padding": 0,
            "title": null,
            "labelFont": "DejaVu Sans",
            "labelFontSize": 21,
            "labelColor": "black",
            "labelAlign": "left",
            "labelOffset": -16.5,
            "symbolType": "M-1.8,-1.6H10.8V1.6H-1.8Z",
            "symbolSize": 400,
            "symbolFillColor": "#e6e6e6",
            "symbolStrokeWidth": 1.5,
            "symbolOpacity": 1
          }
        }
      }
    }
  ]
}
